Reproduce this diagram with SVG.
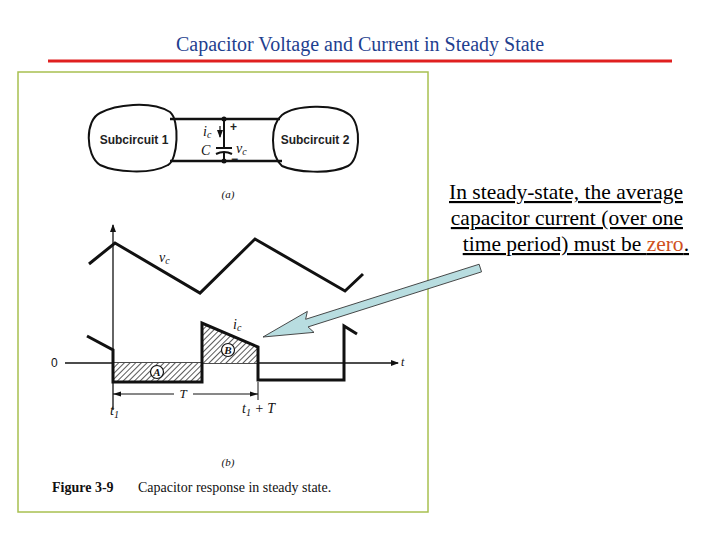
<svg xmlns="http://www.w3.org/2000/svg" width="720" height="540" viewBox="0 0 720 540">
<defs>
<style>
.w{fill:none;stroke:#111;stroke-width:3;stroke-linejoin:miter}
.t{font-family:"Liberation Sans",Arial,sans-serif;font-size:12px;font-weight:bold;fill:#222}
.i{font-family:"Liberation Serif",serif;font-style:italic;fill:#111}
.n{font-family:"Liberation Serif","Times New Roman",serif;font-size:21.5px;fill:#000;text-decoration:underline}
</style>
<pattern id="h" patternUnits="userSpaceOnUse" width="4" height="4" patternTransform="rotate(45)">
<rect width="4" height="4" fill="#fff"/><line x1="0" y1="0" x2="0" y2="4" stroke="#222" stroke-width="1.5"/>
</pattern>
<marker id="ah" markerWidth="8" markerHeight="6" refX="7" refY="3" orient="auto" markerUnits="userSpaceOnUse"><path d="M0,0L8,3L0,6Z" fill="#111"/></marker>
</defs>
<rect width="720" height="540" fill="#fff"/>
<g id="title">
<text x="360" y="51" text-anchor="middle" font-family="Liberation Serif,serif" font-size="20" fill="#1f3f8f">Capacitor Voltage and Current in Steady State</text>
<line x1="48" y1="61" x2="672" y2="61" stroke="#e02020" stroke-width="3"/>
</g>
<g id="figure">
<rect x="18" y="72" width="410" height="440" fill="none" stroke="#a8c050" stroke-width="1.5"/>
<g id="subcircuit1">
<path d="M100,113 C115,105 150,100 170,112 C180,120 178,160 168,165 C150,175 115,172 100,165 C85,155 85,120 100,113Z" fill="#fff" stroke="#111" stroke-width="2"/>
<text x="134" y="144" class="t" text-anchor="middle">Subcircuit 1</text>
</g>
<g id="subcircuit2">
<path d="M282,115 C295,105 335,103 350,115 C362,125 360,160 348,166 C330,175 295,172 282,166 C270,155 270,125 282,115Z" fill="#fff" stroke="#111" stroke-width="2"/>
<text x="315" y="144" class="t" text-anchor="middle">Subcircuit 2</text>
</g>
<g id="wires">
<line x1="170" y1="119" x2="280" y2="119" stroke="#111" stroke-width="2.5"/>
<line x1="170" y1="161" x2="282" y2="161" stroke="#111" stroke-width="2.5"/>
<line x1="224" y1="119" x2="224" y2="148" stroke="#111" stroke-width="2"/>
<line x1="224" y1="153" x2="224" y2="161" stroke="#111" stroke-width="2"/>
<line x1="216" y1="148" x2="232" y2="148" stroke="#111" stroke-width="2"/>
<path d="M216,154 Q224,150 232,154" fill="none" stroke="#111" stroke-width="2"/>
<circle cx="224" cy="119" r="2.5" fill="#111"/><circle cx="224" cy="161" r="2.5" fill="#111"/>
<line x1="220" y1="126" x2="220" y2="137" stroke="#111" stroke-width="1.2" marker-end="url(#ah)"/>
<text x="203" y="136" class="i" font-size="14">i<tspan font-size="10" dy="2">c</tspan></text>
<text x="230" y="131" class="t">+</text>
<text x="201" y="155" class="i" font-size="14">C</text>
<text x="236" y="153" class="i" font-size="14">v<tspan font-size="10" dy="2">c</tspan></text>
<text x="231" y="163" class="t">−</text>
<text x="228" y="198" class="i" font-size="11" text-anchor="middle">(a)</text>
</g>
<g id="graph">
<line x1="113" y1="410" x2="113" y2="225" stroke="#111" stroke-width="1.3" marker-end="url(#ah)"/>
<line x1="65" y1="363" x2="398" y2="363" stroke="#111" stroke-width="1.3" marker-end="url(#ah)"/>
<text x="51" y="367" font-family="Liberation Sans,sans-serif" font-size="12" fill="#111">0</text>
<text x="401" y="366" class="i" font-size="12">t</text>
<polyline class="w" points="89,264 115,243 200,293 255,239 345,291 363,274"/>
<text x="159" y="262" class="i" font-size="14">v<tspan font-size="10" dy="2">c</tspan></text>
<rect x="113" y="363" width="89" height="19" fill="url(#h)"/>
<polygon points="202,363 202,323 258,347 258,363" fill="url(#h)"/>
<polyline class="w" points="87,336 113,350 113,382 202,382 202,323 258,347 258,380 344,380 344,326 357,334"/>
<circle cx="157" cy="372" r="6.5" fill="#fff" stroke="#111" stroke-width="1.2"/>
<text x="157" y="376" class="i" font-size="11" text-anchor="middle" font-weight="bold">A</text>
<circle cx="228" cy="350" r="6.5" fill="#fff" stroke="#111" stroke-width="1.2"/>
<text x="228" y="354" class="i" font-size="11" text-anchor="middle" font-weight="bold">B</text>
<text x="233" y="329" class="i" font-size="14">i<tspan font-size="10" dy="2">c</tspan></text>
<line x1="258" y1="382" x2="258" y2="400" stroke="#111" stroke-width="1"/>
<path d="M113,394 L121,391.5 L121,396.5Z" fill="#111"/>
<line x1="113" y1="394" x2="174" y2="394" stroke="#111" stroke-width="1"/>
<line x1="193" y1="394" x2="258" y2="394" stroke="#111" stroke-width="1"/>
<path d="M258,394 L250,391.5 L250,396.5Z" fill="#111"/>
<text x="183" y="398" class="i" font-size="13" text-anchor="middle">T</text>
<text x="110" y="415" class="i" font-size="14">t<tspan font-size="10" dy="3">1</tspan></text>
<text x="242" y="413" class="i" font-size="14">t<tspan font-size="10" dy="3">1</tspan><tspan dy="-3"> + T</tspan></text>
<text x="228" y="466" class="i" font-size="11" text-anchor="middle">(b)</text>
<text x="52" y="492" font-family="Liberation Serif,serif" font-size="14" fill="#111"><tspan font-weight="bold">Figure 3-9</tspan><tspan x="138">Capacitor response in steady state.</tspan></text>
</g>
</g>
<g id="note">
<text class="n" text-anchor="end"><tspan x="683" y="199">In steady-state, the average</tspan><tspan x="683" y="225">capacitor current (over one</tspan><tspan x="689" y="251">time period) must be <tspan fill="#d05020">zero</tspan>.</tspan></text>
</g>
<g id="connectors">
<polygon transform="translate(263,337) rotate(-17.6)" points="0,0 50,-11 46,-4 228,-4 228,4 46,4 50,11" fill="#b8dde0" stroke="#333" stroke-width="0.8"/>
</g>
</svg>
